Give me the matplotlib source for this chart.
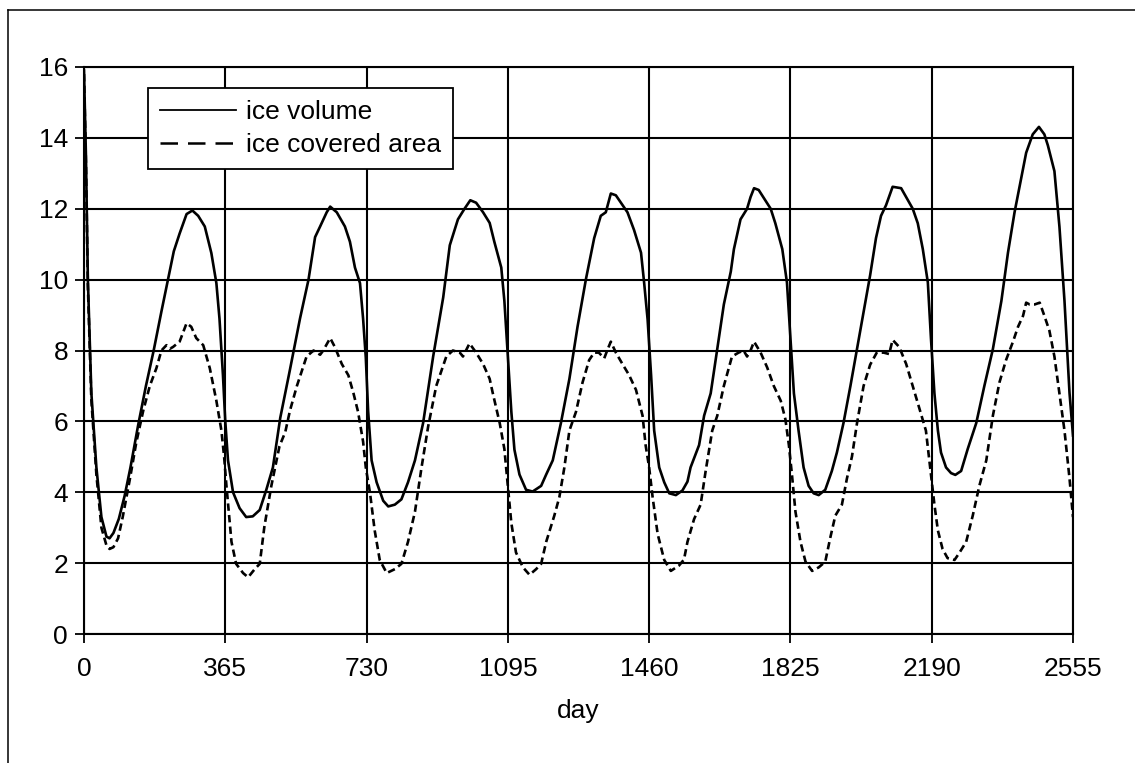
import matplotlib
matplotlib.use("Agg")
import matplotlib.pyplot as plt
from matplotlib.lines import Line2D

plt.rcParams['font.family'] = ['Liberation Sans', 'DejaVu Sans']
FS = 19

# ice volume (solid)
vol_day = [0, 5, 10, 19, 32, 45, 58, 66, 76, 90, 105, 120, 140, 160, 180, 200, 217, 232,
           247, 265, 280, 295, 312, 329, 342, 350, 359, 365, 372, 385, 402, 419, 436, 454,
           471, 488, 507, 531, 558, 580, 597, 610, 627, 636, 653, 674, 687, 700, 713, 721,
           728, 734, 743, 756, 773, 786, 803, 820, 837, 855, 876, 902, 928, 945, 966, 983,
           998, 1013, 1031, 1048, 1060, 1078, 1086, 1095, 1104, 1112, 1125, 1142, 1159,
           1181, 1194, 1211, 1232, 1254, 1275, 1297, 1318, 1335, 1348, 1361, 1374, 1387,
           1404, 1421, 1439, 1447, 1456, 1465, 1473, 1486, 1499, 1512, 1529, 1546, 1559,
           1567, 1589, 1602, 1619, 1636, 1653, 1671, 1679, 1696, 1713, 1722, 1731, 1743,
           1761, 1774, 1786, 1804, 1816, 1825, 1834, 1846, 1859, 1872, 1885, 1898, 1915,
           1932, 1945, 1962, 1980, 1997, 2014, 2031, 2046, 2059, 2072, 2089, 2111, 2124,
           2141, 2154, 2167, 2180, 2188, 2197, 2206, 2214, 2227, 2240, 2251, 2266, 2283,
           2305, 2326, 2348, 2370, 2387, 2404, 2421, 2434, 2451, 2467, 2481, 2490, 2507,
           2520, 2533, 2546, 2555]
vol = [15.9, 13.5, 10.0, 6.8, 4.7, 3.3, 2.75, 2.7, 2.85, 3.25, 3.9, 4.7, 5.9, 7.0, 8.0, 9.1,
       10.0, 10.8, 11.3, 11.85, 11.95, 11.8, 11.5, 10.75, 9.9, 8.9, 7.3, 6.0, 4.9, 4.0, 3.55,
       3.3, 3.32, 3.5, 4.07, 4.7, 6.1, 7.4, 8.9, 10.0, 11.2, 11.5, 11.9, 12.06, 11.9, 11.5,
       11.07, 10.34, 9.9, 8.9, 7.8, 6.3, 4.9, 4.28, 3.76, 3.6, 3.65, 3.8, 4.28, 4.9, 5.95,
       7.83, 9.5, 10.97, 11.7, 12.0, 12.24, 12.17, 11.9, 11.6, 11.07, 10.34, 9.4, 7.83, 6.27,
       5.2, 4.5, 4.07, 4.02, 4.18, 4.5, 4.9, 5.95, 7.2, 8.67, 10.03, 11.17, 11.8, 11.9, 12.43,
       12.38, 12.17, 11.9, 11.4, 10.76, 9.92, 8.88, 7.31, 5.74, 4.7, 4.28, 3.97, 3.92, 4.05,
       4.3, 4.7, 5.33, 6.16, 6.79, 8.04, 9.3, 10.23, 10.86, 11.7, 12.0, 12.33, 12.58, 12.53,
       12.22, 12.0, 11.59, 10.86, 9.92, 8.35, 6.79, 5.74, 4.7, 4.18, 3.97, 3.92, 4.07, 4.6,
       5.12, 5.95, 7.0, 8.04, 9.09, 10.13, 11.17, 11.8, 12.1, 12.62, 12.58, 12.33, 12.0,
       11.59, 10.86, 9.92, 8.35, 6.79, 5.74, 5.12, 4.7, 4.54, 4.49, 4.6, 5.22, 5.95, 7.0,
       8.04, 9.4, 10.76, 11.9, 12.85, 13.58, 14.1, 14.31, 14.1, 13.79, 13.06, 11.49, 9.4,
       6.8, 5.6]

# ice covered area (dashed)
area_day = [0, 5, 10, 19, 32, 45, 58, 66, 76, 88, 100, 119, 135, 153, 170, 187, 200, 213,
            222, 230, 247, 265, 277, 290, 308, 325, 342, 355, 362, 368, 381, 393, 411, 424,
            441, 454, 466, 484, 505, 520, 532, 550, 575, 593, 610, 618, 636, 648, 666, 683,
            696, 708, 721, 728, 739, 751, 764, 782, 803, 820, 837, 855, 872, 889, 910, 936,
            953, 971, 979, 996, 1013, 1031, 1048, 1056, 1074, 1086, 1095, 1104, 1116, 1134,
            1151, 1168, 1181, 1194, 1215, 1228, 1241, 1254, 1271, 1288, 1305, 1318, 1330,
            1344, 1353, 1361, 1374, 1391, 1408, 1426, 1443, 1451, 1460, 1469, 1482, 1499,
            1516, 1537, 1550, 1559, 1576, 1593, 1606, 1623, 1636, 1653, 1674, 1691, 1704,
            1713, 1722, 1731, 1748, 1765, 1782, 1800, 1812, 1821, 1829, 1838, 1851, 1864,
            1881, 1898, 1915, 1928, 1941, 1958, 1971, 1984, 1997, 2014, 2031, 2048, 2066,
            2080, 2089, 2106, 2124, 2141, 2158, 2175, 2188, 2197, 2206, 2218, 2231, 2249,
            2262, 2279, 2296, 2313, 2331, 2348, 2365, 2382, 2400, 2413, 2426, 2434, 2443,
            2456, 2469, 2481, 2494, 2507, 2520, 2533, 2546, 2555]
area = [15.8, 13.3, 9.8, 6.6, 4.5, 3.0, 2.5, 2.4, 2.45, 2.7, 3.3, 4.4, 5.4, 6.3, 7.0, 7.5,
        8.0, 8.15, 8.05, 8.1, 8.25, 8.77, 8.67, 8.35, 8.15, 7.5, 6.58, 5.74, 5.0, 4.18, 2.6,
        1.98, 1.72, 1.6, 1.83, 1.98, 3.03, 4.18, 5.3, 5.7, 6.3, 7.0, 7.83, 8.0, 7.88, 8.0,
        8.35, 8.1, 7.62, 7.3, 6.8, 6.27, 5.43, 4.7, 3.97, 2.92, 2.09, 1.72, 1.83, 1.98, 2.6,
        3.45, 4.7, 5.85, 7.0, 7.83, 8.0, 7.94, 7.83, 8.2, 7.94, 7.62, 7.2, 6.8, 5.95, 5.22,
        4.18, 3.13, 2.3, 1.88, 1.67, 1.83, 1.98, 2.6, 3.34, 3.86, 4.7, 5.74, 6.27, 7.1, 7.73,
        7.94, 7.94, 7.78, 8.04, 8.25, 7.94, 7.62, 7.31, 6.89, 6.16, 5.32, 4.7, 3.86, 2.82,
        2.09, 1.78, 1.93, 2.1, 2.6, 3.24, 3.65, 4.6, 5.74, 6.16, 7.0, 7.83, 7.94, 8.0, 7.83,
        8.0, 8.25, 7.94, 7.52, 7.0, 6.58, 6.06, 5.33, 4.49, 3.45, 2.6, 2.04, 1.78, 1.88,
        2.04, 2.72, 3.34, 3.65, 4.39, 5.01, 5.95, 7.0, 7.6, 7.94, 7.94, 7.9, 8.3, 8.1, 7.62,
        7.0, 6.37, 5.74, 4.49, 3.65, 2.92, 2.4, 2.14, 2.09, 2.3, 2.6, 3.34, 4.18, 4.9, 6.16,
        7.1, 7.73, 8.25, 8.67, 8.98, 9.35, 9.3, 9.3, 9.35, 8.98, 8.56, 7.83, 6.79, 5.74,
        4.39, 3.3]

x_ticks = [0, 365, 730, 1095, 1460, 1825, 2190, 2555]
y_ticks = [0, 2, 4, 6, 8, 10, 12, 14, 16]

W, H = 1135, 763
fig = plt.figure(figsize=(W / 100, H / 100), dpi=100)
ax = fig.add_axes([84 / W, 1 - 634 / H, (1073 - 84) / W, (634 - 67) / H])

ax.plot(vol_day, vol, color='black', lw=1.9, solid_joinstyle='round')
ax.plot(area_day, area, color='black', lw=1.9, dashes=(2.8, 1.6))

ax.set_xlim(0, 2555)
ax.set_ylim(0, 16)
ax.set_xticks(x_ticks)
ax.set_yticks(y_ticks)
ax.grid(True, color='black', lw=1.5)
ax.set_axisbelow(True)
for s in ax.spines.values():
    s.set_color('black')
    s.set_linewidth(1.5)
ax.tick_params(direction='out', length=6.5, width=1.3, labelsize=FS, colors='black')
ax.tick_params(axis='x', pad=10)
ax.tick_params(axis='y', pad=5)
ax.set_xlabel('day', fontsize=FS, labelpad=13)

# legend uses longer dashes than the plotted line
handles = [Line2D([], [], color='black', lw=1.3),
           Line2D([], [], color='black', lw=1.8, dashes=(7, 4))]
leg = ax.legend(handles, ['ice volume', 'ice covered area'], loc='upper left',
                bbox_to_anchor=(148 / W, 1 - 88 / H), bbox_transform=fig.transFigure,
                borderaxespad=0, fontsize=FS, frameon=True, fancybox=False,
                edgecolor='black', framealpha=1, handlelength=2.9, handletextpad=0.35,
                borderpad=0.45, labelspacing=0.35)
leg.get_frame().set_linewidth(1.3)

# outer chart border (left and top edges)
fig.add_artist(Line2D([8 / W, 8 / W], [0, 1 - 10 / H], transform=fig.transFigure,
                      color='black', lw=1.1))
fig.add_artist(Line2D([8 / W, 1], [1 - 10 / H, 1 - 10 / H], transform=fig.transFigure,
                      color='black', lw=1.1))

fig.savefig('out.png', dpi=100)
